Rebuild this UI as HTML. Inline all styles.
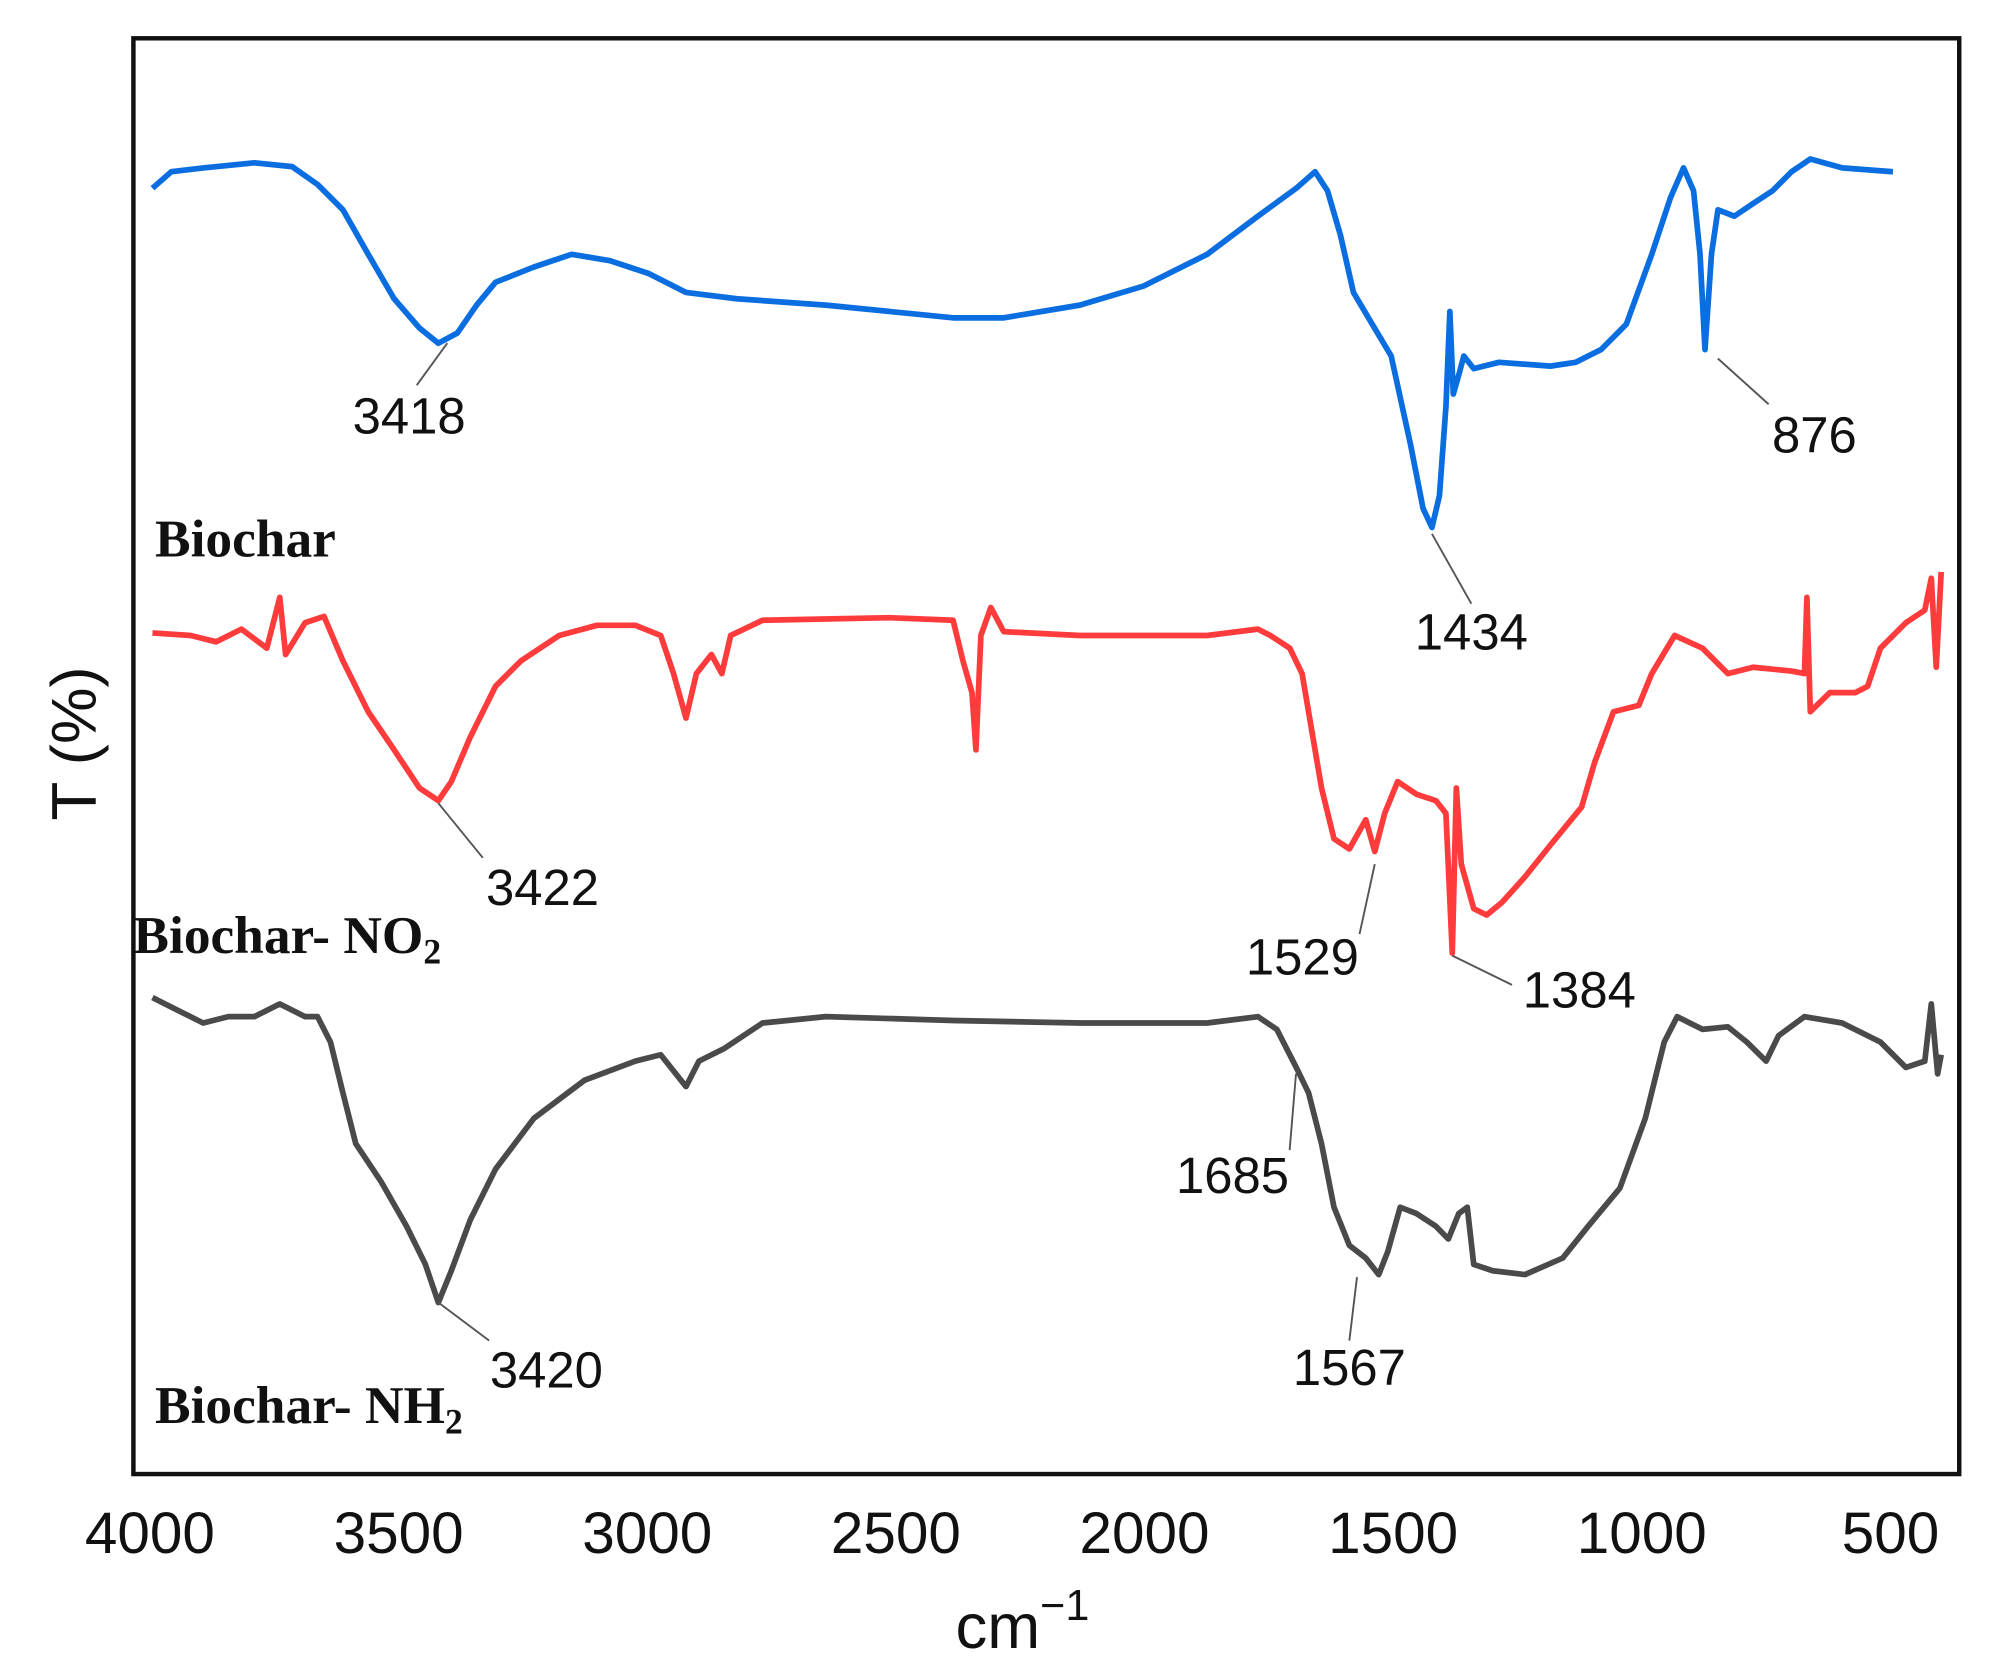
<!DOCTYPE html>
<html><head><meta charset="utf-8"><style>
html,body{margin:0;padding:0;background:#fff;}
svg{display:block;}
.num{font-family:"Liberation Sans",sans-serif;font-size:40px;fill:#111;}
.lab{font-family:"Liberation Serif",serif;font-weight:bold;font-size:42px;fill:#111;}
.tick{font-family:"Liberation Sans",sans-serif;font-size:46px;fill:#111;}
</style></head><body>
<svg id="chart" width="1991" height="1675" viewBox="0 0 1567 1318" xmlns="http://www.w3.org/2000/svg">
<rect x="105" y="30" width="1437" height="1130" fill="none" stroke="#111" stroke-width="3.5"/>
<g id="series"></g>
<g id="xticks"></g>
<text class="tick" x="752" y="1297" style="font-size:50px">cm<tspan dy="-22" style="font-size:34px">−1</tspan></text>
<text class="tick" transform="translate(75,585) rotate(-90)" text-anchor="middle" style="font-size:50px">T (%)</text>
<text class="lab" x="122" y="438">Biochar</text>
<text class="lab" x="105" y="750">Biochar- NO<tspan dy="8" style="font-size:28px">2</tspan></text>
<text class="lab" x="122" y="1120">Biochar- NH<tspan dy="8" style="font-size:28px">2</tspan></text>
<g id="annots"></g>
</svg>
<script>
const blueWn=[3995,3957,3893,3790,3714,3663,3612,3561,3509,3458,3420,3382,3343,3305,3228,3152,3075,2998,2922,2820,2641,2385,2283,2130,2002,1874,1772,1695,1657,1632,1606,1580,1542,1504,1465,1440,1422,1407,1394,1386,1379,1368,1358,1338,1287,1184,1133,1082,1031,980,942,916,896,883,873,860,847,814,776,737,699,661,597,495];
const blueT=[1012,1025,1028,1032,1029,1015,995,960,925,902,890,898,920,938,950,960,955,945,930,925,920,910,910,920,935,960,990,1012,1025,1010,975,930,905,880,810,760,745,770,840,915,850,865,880,870,875,872,875,885,905,960,1005,1028,1010,960,885,960,995,990,1000,1010,1025,1035,1028,1025];
const redWn=[3995,3918,3867,3816,3765,3739,3727,3688,3650,3612,3561,3509,3458,3420,3394,3356,3305,3254,3177,3101,3024,2973,2947,2922,2901,2871,2850,2832,2768,2513,2385,2365,2347,2339,2329,2309,2283,2130,1874,1772,1747,1708,1683,1670,1644,1619,1588,1555,1537,1517,1491,1453,1414,1394,1381,1373,1363,1338,1312,1281,1235,1184,1121,1095,1057,1006,980,934,878,827,776,699,673,668,661,622,571,546,520,469,431,418,408,398];
const redT=[662,660,655,665,650,690,645,670,675,640,600,570,540,530,545,580,620,640,660,668,668,660,630,595,630,645,630,660,672,674,672,640,615,570,660,682,663,660,660,665,660,650,630,600,540,500,492,515,490,520,545,535,530,520,410,540,480,445,440,450,470,495,525,560,600,605,630,660,650,630,635,632,630,690,600,615,615,620,650,670,680,705,635,710];
const grayWn=[3995,3944,3893,3842,3790,3739,3688,3663,3637,3612,3586,3535,3484,3446,3420,3394,3356,3305,3228,3126,3024,2973,2922,2896,2845,2768,2641,2385,2130,1874,1772,1734,1695,1670,1644,1619,1588,1555,1529,1511,1486,1453,1414,1389,1368,1351,1338,1300,1235,1159,1108,1044,993,955,929,878,827,789,750,725,673,597,520,469,431,418,405,398];
const grayT=[375,365,355,360,360,370,360,360,340,300,260,230,195,165,135,160,200,240,280,310,325,330,305,325,335,355,360,357,355,355,360,350,320,300,260,210,180,170,157,175,210,205,195,185,205,210,165,160,157,170,195,225,280,340,360,350,352,340,325,345,360,355,340,320,325,370,315,330];
const tickValues=[4000,3500,3000,2500,2000,1500,1000,500];
const annotLabels=["3418","876","1434","3422","1529","1384","1685","1567","3420"];
const NS="http://www.w3.org/2000/svg";
function xScale(wn){return 118+(4000-wn)/2.555;}
function yScale(t){return 1160-t;}
const sg=document.getElementById('series');
function draw(wn,t,color,name){
  const p=document.createElementNS(NS,'path');
  let d='';
  for(let i=0;i<wn.length;i++){d+=(i?'L':'M')+xScale(wn[i]).toFixed(1)+','+yScale(t[i]).toFixed(1);}
  p.setAttribute('d',d);p.setAttribute('fill','none');p.setAttribute('stroke',color);
  p.setAttribute('stroke-width','4.5');p.setAttribute('stroke-linejoin','round');
  
  
  sg.appendChild(p);
}
draw(blueWn,blueT,'#0a6ee0','biochar-line');
draw(redWn,redT,'#ff3b3b','biochar-no2-line');
draw(grayWn,grayT,'#4a4a4a','biochar-nh2-line');
const xg=document.getElementById('xticks');
tickValues.forEach(v=>{
  const t=document.createElementNS(NS,'text');
  t.setAttribute('x',xScale(v));t.setAttribute('y',1222);
  t.setAttribute('text-anchor','middle');t.setAttribute('class','tick');
  t.textContent=v;
  
  
  xg.appendChild(t);
});
const ann=[[352,270,328,303,322,341],[1352,282,1392,318,1428,356],[1127,420,1158,475,1158,511],[345,632,380,675,427,712],[1082,680,1070,735,1025,767],[1143,752,1190,775,1243,793],[1020,845,1015,905,970,939],[1068,1005,1062,1055,1062,1090],[345,1025,385,1055,430,1092]];
const ag=document.getElementById('annots');
ann.forEach((a,i)=>{
  const l=document.createElementNS(NS,'line');
  l.setAttribute('x1',a[0]);l.setAttribute('y1',a[1]);l.setAttribute('x2',a[2]);l.setAttribute('y2',a[3]);
  l.setAttribute('stroke','#555');l.setAttribute('stroke-width','1.5');
  
  
  ag.appendChild(l);
  const t=document.createElementNS(NS,'text');
  t.setAttribute('x',a[4]);t.setAttribute('y',a[5]);t.setAttribute('text-anchor','middle');
  t.setAttribute('class','num');t.textContent=annotLabels[i];
  
  
  ag.appendChild(t);
});
</script>
</body></html>
